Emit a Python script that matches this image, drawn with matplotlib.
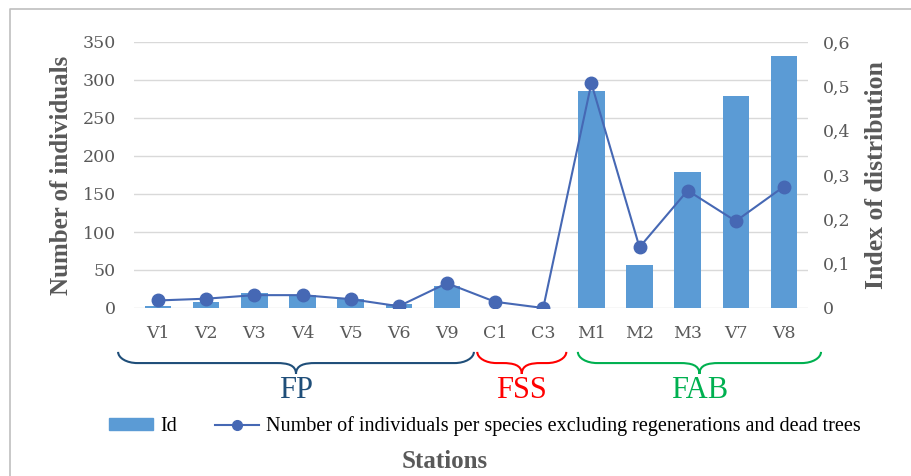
import matplotlib.pyplot as plt
import matplotlib.transforms as mtransforms
from matplotlib.path import Path
from matplotlib.patches import PathPatch, Rectangle
from matplotlib.lines import Line2D
import numpy as np

stations = ['V1', 'V2', 'V3', 'V4', 'V5', 'V6', 'V9', 'C1', 'C3',
            'M1', 'M2', 'M3', 'V7', 'V8']
id_values = [3, 8, 20, 17, 12, 5, 29, 0, 0, 286, 57, 179, 279, 331]
ind_per_species = [0.017, 0.021, 0.029, 0.029, 0.020, 0.004, 0.056, 0.014, 0.0,
                   0.507, 0.137, 0.265, 0.196, 0.274]

groups = ['FP', 'FSS', 'FAB']
group_spans = [(-0.83, 6.56), (6.63, 8.48), (8.72, 13.77)]
group_colors = ['#1F4E79', '#FF0000', '#00B050']

gray = '#595959'
plt.rcParams['font.family'] = 'Liberation Serif'

fig = plt.figure(figsize=(9.12, 4.76), dpi=100)
ax = fig.add_axes([134 / 912, 1 - 308 / 476, 674 / 912, 266 / 476])
ax2 = ax.twinx()

x = np.arange(len(stations))
ax.bar(x, id_values, width=0.55, color='#5B9BD5', zorder=2)
ax2.plot(x, ind_per_species, color='#4668B4', lw=1.5, marker='o', ms=9, zorder=3)

ax.set_xlim(-0.5, len(stations) - 0.5)
ax.set_ylim(0, 350)
ax.set_yticks(np.arange(0, 351, 50))
ax2.set_ylim(0, 0.6)
ax2.set_yticks(np.arange(0, 0.61, 0.1))
ax2.set_yticklabels(['0'] + ['0,%d' % i for i in range(1, 7)])
ax.set_xticks(x)
ax.set_xticklabels(stations)

ax.grid(axis='y', color='#D9D9D9', lw=1, zorder=0)
ax.set_axisbelow(True)
for a in (ax, ax2):
    for s in a.spines.values():
        s.set_visible(False)
    a.tick_params(length=0, colors=gray)
    for lab in a.get_xticklabels() + a.get_yticklabels():
        lab.set_fontfamily('DejaVu Serif')
        lab.set_fontsize(12.5)
ax.tick_params(axis='y', pad=13)
ax2.tick_params(axis='y', pad=11)
ax.tick_params(axis='x', pad=12)

ax.set_ylabel('Number of individuals', fontsize=18, fontweight='bold', color=gray, labelpad=7)
ax2.set_ylabel('Index of distribution', fontsize=18.5, fontweight='bold', color=gray, labelpad=10)

# braces under the station groups
trans = mtransforms.blended_transform_factory(ax.transData, ax.transAxes)
y0, y1, y2 = -0.165, -0.207, -0.248
for name, (xa, xb), c in zip(groups, group_spans, group_colors):
    xm = (xa + xb) / 2
    r = 0.4
    t = 0.4
    k = 0.55
    verts = [(xa, y0), (xa, y0 + k * (y1 - y0)), (xa + (1 - k) * r, y1), (xa + r, y1),
             (xm - t, y1),
             (xm - (1 - k) * t, y1), (xm, y1 + k * (y2 - y1) * 0.3), (xm, y2),
             (xm, y1 + k * (y2 - y1) * 0.3), (xm + (1 - k) * t, y1), (xm + t, y1),
             (xb - r, y1),
             (xb - (1 - k) * r, y1), (xb, y0 + k * (y1 - y0)), (xb, y0)]
    codes = [Path.MOVETO, Path.CURVE4, Path.CURVE4, Path.CURVE4,
             Path.LINETO,
             Path.CURVE4, Path.CURVE4, Path.CURVE4,
             Path.CURVE4, Path.CURVE4, Path.CURVE4,
             Path.LINETO,
             Path.CURVE4, Path.CURVE4, Path.CURVE4]
    ax.add_patch(PathPatch(Path(verts, codes), fc='none', ec=c, lw=1.5,
                           transform=trans, clip_on=False))
    ax.text(xm, -0.312, name, color=c, fontsize=22, ha='center', va='center',
            transform=trans)

handles = [Rectangle((0, 0), 1, 1, color='#5B9BD5'),
           Line2D([], [], color='#4668B4', lw=1.5, marker='o', ms=7)]
fig.legend(handles, ['Id', 'Number of individuals per species excluding regenerations and dead trees'],
           loc='center', bbox_to_anchor=(485 / 912, 1 - 426 / 476), ncol=2, frameon=False,
           fontsize=14.5, handlelength=2.2, handleheight=0.5, handletextpad=0.35,
           columnspacing=1.9)

fig.text(445 / 912, 1 - 462 / 476, 'Stations', fontsize=18, fontweight='bold',
         color=gray, ha='center', va='center')

# chart area border (left and top)
fig.add_artist(Line2D([10 / 912, 10 / 912, 1], [0, 1 - 9 / 476, 1 - 9 / 476],
                      color='#BFBFBF', lw=1.2, transform=fig.transFigure))

fig.savefig('out.png', dpi=100)
